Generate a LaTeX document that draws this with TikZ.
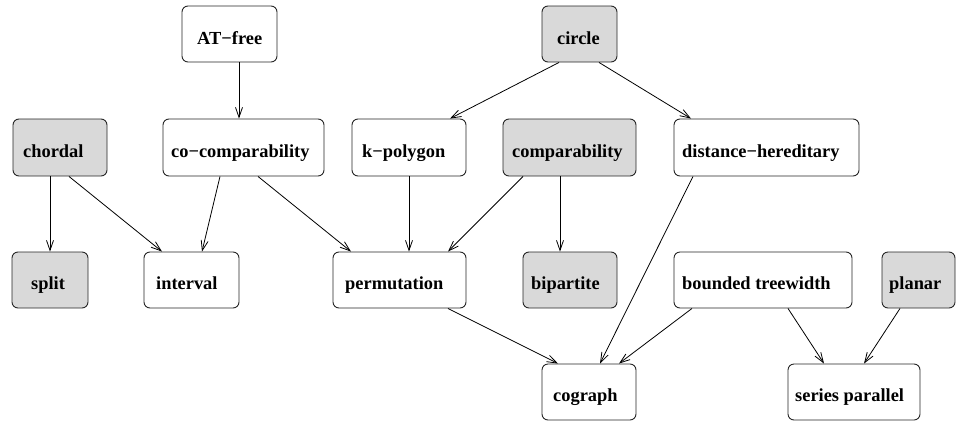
\documentclass[tikz,border=0pt]{standalone}
\usepackage{fontspec}
\setmainfont{Liberation Serif}
\usetikzlibrary{arrows.meta}

\tikzset{
  cls/.style={draw=black!85, line width=0.9pt, rounded corners=6pt, fill=white,
              minimum height=56pt, inner sep=0pt},
  hard/.style={cls, fill=black!15},
  lbl/.style={anchor=base west, inner sep=0pt,
              font=\fontsize{18.4}{20}\selectfont\bfseries},
  incl/.style={draw=black, line width=0.8pt,
               -{Straight Barb[length=10pt,width=7pt,line width=0.8pt]}},
}

\begin{document}
\begin{tikzpicture}[x=1pt,y=-1pt]
\useasboundingbox (0,0) rectangle (956,421);

% class boxes
\node[cls,  minimum width=95pt]  (atfree)  at (229.5,34)  {};
\node[hard, minimum width=75pt]  (circle)  at (579.5,34)  {};
\node[hard, minimum width=94pt, minimum height=57pt]  (chordal) at (60,147.5)  {};
\node[cls,  minimum width=161pt, minimum height=57pt] (cocomp)  at (243.5,147.5) {};
\node[cls,  minimum width=114pt, minimum height=57pt] (kpoly)   at (409,147.5) {};
\node[hard, minimum width=133pt, minimum height=57pt] (comp)    at (569.5,147.5) {};
\node[cls,  minimum width=185pt, minimum height=57pt] (dh)      at (766.5,147.5) {};
\node[hard, minimum width=76pt]  (split)    at (50,280)    {};
\node[cls,  minimum width=95pt]  (interval) at (191.5,280) {};
\node[cls,  minimum width=133pt] (perm)     at (399.5,280) {};
\node[hard, minimum width=94pt]  (bip)      at (570,280)   {};
\node[cls,  minimum width=178pt] (btw)      at (763,280)   {};
\node[hard, minimum width=73pt]  (planar)   at (918.5,280) {};
\node[cls,  minimum width=94pt]  (cograph)  at (589,392)   {};
\node[cls,  minimum width=132pt] (sp)       at (854,392)   {};

% class names
\node[lbl] (t-atfree)   at (197,44)  {AT−free};
\node[lbl] (t-circle)   at (557,44)  {circle};
\node[lbl] (t-chordal)  at (23,157)  {chordal};
\node[lbl] (t-cocomp)   at (171,157) {co−comparability};
\node[lbl] (t-kpoly)    at (362,157) {k−polygon};
\node[lbl] (t-comp)     at (512,157) {comparability};
\node[lbl] (t-dh)       at (682,157) {distance−hereditary};
\node[lbl] (t-split)    at (31,289)  {split};
\node[lbl] (t-interval) at (156,289) {interval};
\node[lbl] (t-perm)     at (345,289) {permutation};
\node[lbl] (t-bip)      at (531,289) {bipartite};
\node[lbl] (t-btw)      at (682,289) {bounded treewidth};
\node[lbl] (t-planar)   at (889,289) {planar};
\node[lbl] (t-cograph)  at (553,401) {cograph};
\node[lbl] (t-sp)       at (795,401) {series parallel};

% inclusions
\draw[incl] ([xshift=9.5]atfree.south)  -- ([xshift=-4.5]cocomp.north);
\draw[incl] ([xshift=-20.5]circle.south) -- ([xshift=41]kpoly.north);
\draw[incl] ([xshift=19.5]circle.south)  -- ([xshift=-75.5]dh.north);
\draw[incl] ([xshift=-10]chordal.south)  -- (split.north);
\draw[incl] ([xshift=9]chordal.south)    -- ([xshift=-29.5]interval.north);
\draw[incl] ([xshift=-23.5]cocomp.south) -- ([xshift=10.5]interval.north);
\draw[incl] ([xshift=14.5]cocomp.south)  -- ([xshift=-48.5]perm.north);
\draw[incl] (kpoly.south)                -- ([xshift=9.5]perm.north);
\draw[incl] ([xshift=-46.5]comp.south)   -- ([xshift=48.5]perm.north);
\draw[incl] ([xshift=-9.5]comp.south)    -- ([xshift=-10]bip.north);
\draw[incl] ([xshift=-73.5]dh.south)     -- ([xshift=11]cograph.north);
\draw[incl] ([xshift=48.5]perm.south)    -- ([xshift=-31]cograph.north);
\draw[incl] ([xshift=-71]btw.south)      -- ([xshift=30]cograph.north);
\draw[incl] ([xshift=25]btw.south)       -- ([xshift=-30]sp.north);
\draw[incl] ([xshift=-18.5]planar.south) -- ([xshift=10]sp.north);
\end{tikzpicture}
\end{document}
